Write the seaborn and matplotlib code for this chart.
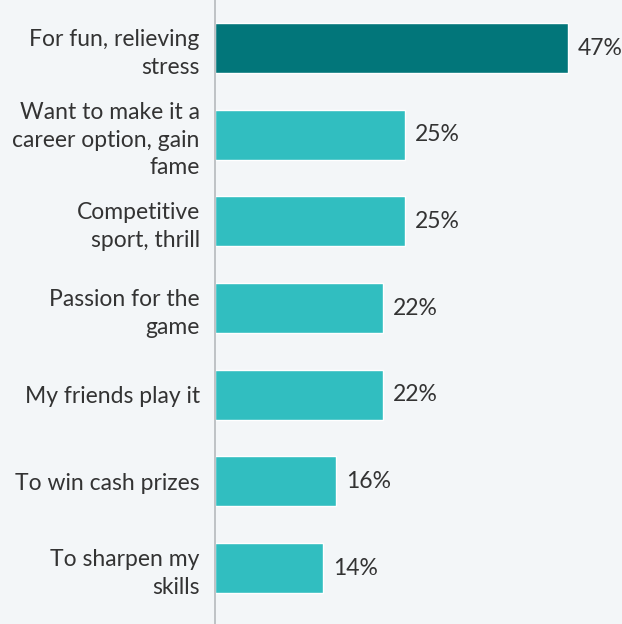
import matplotlib
matplotlib.use("Agg")
import matplotlib.pyplot as plt
import seaborn as sns
import pandas as pd

categories = [
    "For fun, relieving\nstress",
    "Want to make it a\ncareer option, gain\nfame",
    "Competitive\nsport, thrill",
    "Passion for the\ngame",
    "My friends play it",
    "To win cash prizes",
    "To sharpen my\nskills",
]
values = [47.0, 25.3, 25.3, 22.4, 22.4, 16.1, 14.4]
value_labels = ["47%", "25%", "25%", "22%", "22%", "16%", "14%"]

bg = "#f3f6f8"
sns.set_theme(style="white")
plt.rcParams["font.family"] = ["Lato", "DejaVu Sans"]

df = pd.DataFrame({"cat": categories, "val": values})
colors = ["#02767a"] + ["#31bec0"] * (len(values) - 1)

fig = plt.figure(figsize=(6.22, 6.24), dpi=100, facecolor=bg)
ax = fig.add_axes([215 / 622, 0, 1 - 215 / 622, 1])
ax.set_facecolor(bg)
sns.barplot(data=df, y="cat", x="val", hue="cat", palette=colors, legend=False,
            orient="h", width=0.577, ax=ax, saturation=1)

ax.set_xlim(0, 54.2)
ax.set_ylim(6.646, -0.554)
for s in ["top", "right", "bottom"]:
    ax.spines[s].set_visible(False)
ax.spines["left"].set_color("#b5b9bc")
ax.spines["left"].set_linewidth(1.2)
ax.set_xticks([])
ax.set_xlabel("")
ax.set_ylabel("")
ax.tick_params(axis="y", length=0, pad=11, labelsize=16.5, labelcolor="#333333")
for lab in ax.get_yticklabels():
    lab.set_horizontalalignment("right")
    lab.set_multialignment("right")
    lab.set_linespacing(1.4)

for i, (v, t) in enumerate(zip(values, value_labels)):
    ax.text(v + 1.3, i, t, va="center", ha="left", fontsize=16.5, color="#333333")

fig.savefig("out.png", dpi=100, facecolor=bg)
